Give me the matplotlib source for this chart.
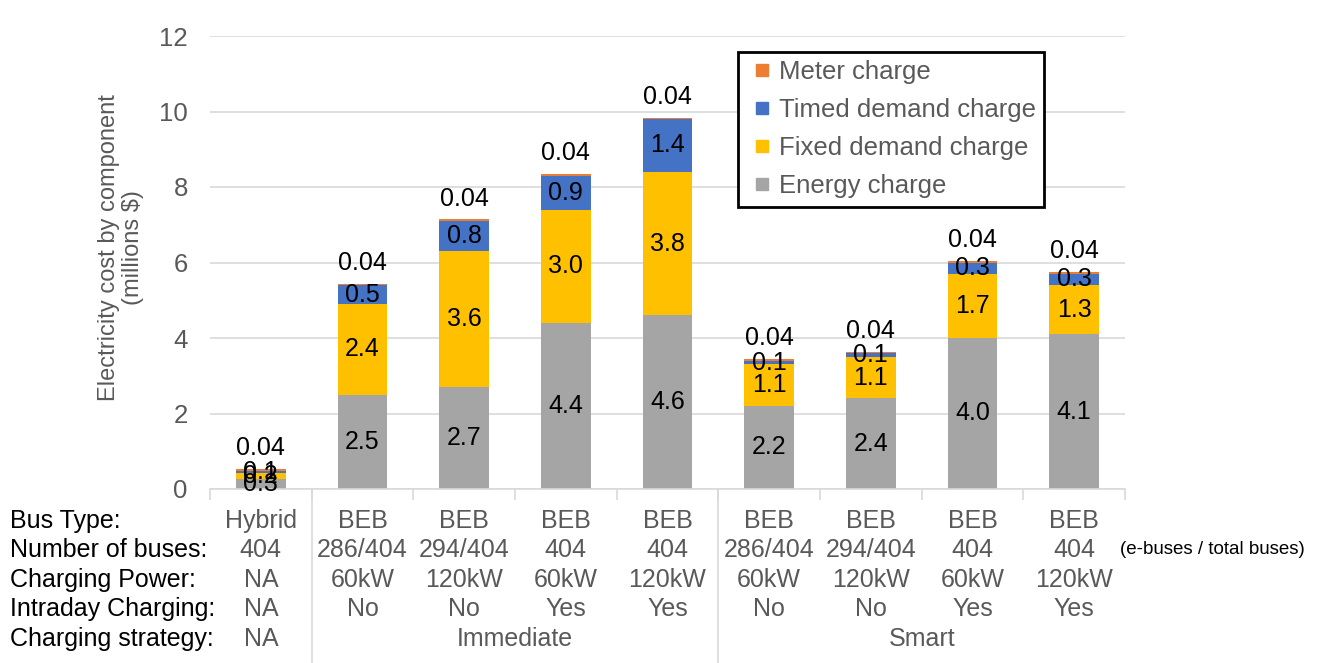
import numpy as np
import matplotlib.pyplot as plt
import matplotlib.transforms as mtransforms
from matplotlib.lines import Line2D

plt.rcParams['font.family'] = ['Liberation Sans', 'DejaVu Sans']

# data (millions $), one value per bar
energy = [0.26, 2.5, 2.7, 4.4, 4.6, 2.2, 2.4, 4.0, 4.1]
fixed_demand = [0.16, 2.4, 3.6, 3.0, 3.8, 1.1, 1.1, 1.7, 1.3]
timed_demand = [0.07, 0.5, 0.8, 0.9, 1.4, 0.1, 0.1, 0.3, 0.3]
meter = [0.04, 0.04, 0.04, 0.04, 0.04, 0.04, 0.04, 0.04, 0.04]

row_labels = ['Bus Type:', 'Number of buses:', 'Charging Power:',
              'Intraday Charging:', 'Charging strategy:']
bus_type = ['Hybrid', 'BEB', 'BEB', 'BEB', 'BEB', 'BEB', 'BEB', 'BEB', 'BEB']
n_buses = ['404', '286/404', '294/404', '404', '404', '286/404', '294/404', '404', '404']
power = ['NA', '60kW', '120kW', '60kW', '120kW', '60kW', '120kW', '60kW', '120kW']
intraday = ['NA', 'No', 'No', 'Yes', 'Yes', 'No', 'No', 'Yes', 'Yes']
strategy_groups = [('NA', 0, 0), ('Immediate', 1, 4), ('Smart', 5, 8)]

c_energy = '#A5A5A5'
c_fixed = '#FFC000'
c_timed = '#4472C4'
c_meter = '#ED7D31'
grey_txt = '#595959'

fig = plt.figure(figsize=(13.24, 6.63), dpi=100)
ax = fig.add_axes([210/1324, 1 - 489/663, 915/1324, 453/663])

x = np.arange(len(energy))
w = 0.49
e = np.array(energy)
f = np.array(fixed_demand)
t = np.array(timed_demand)
m = np.array(meter)

b1 = ax.bar(x, e, w, color=c_energy, label='Energy charge', zorder=2)
b2 = ax.bar(x, f, w, bottom=e, color=c_fixed, label='Fixed demand charge', zorder=2)
b3 = ax.bar(x, t, w, bottom=e + f, color=c_timed, label='Timed demand charge', zorder=2)
b4 = ax.bar(x, m, w, bottom=e + f + t, color=c_meter, label='Meter charge', zorder=2)

# segment labels
for bars, vals in [(b1, e), (b2, f), (b3, t)]:
    ax.bar_label(bars, labels=[f'{v:.1f}' for v in vals], label_type='center',
                 fontsize=18, color='black', zorder=5)
tops = e + f + t + m
for xi, top, v in zip(x, tops, m):
    ax.annotate(f'{v:.2f}', (xi, top), xytext=(0, 15), textcoords='offset points',
                ha='center', va='center', fontsize=18, color='black')

ax.set_xlim(-0.5, 8.5)
ax.set_ylim(0, 12)
ax.set_yticks(np.arange(0, 13, 2))
ax.tick_params(axis='y', length=0, labelsize=18.5, labelcolor=grey_txt, pad=16)
ax.set_xticks(np.arange(-0.5, 9, 1))
ax.set_xticklabels([])
ax.tick_params(axis='x', length=8, color='#D9D9D9', width=1.2)
ax.grid(axis='y', color='#D9D9D9', linewidth=1.2, zorder=0)
for s in ['top', 'right', 'left']:
    ax.spines[s].set_visible(False)
ax.spines['bottom'].set_color('#D9D9D9')
ax.spines['bottom'].set_linewidth(1.2)

ax.set_ylabel('Electricity cost by component\n(millions $)', fontsize=17,
              color=grey_txt, linespacing=1.1)
ax.yaxis.set_label_coords(-0.072, 0.532)

# separators below the axis
for xs in [0.5, 4.5]:
    ax.add_line(Line2D([xs, xs], [0, -(663 - 489) / 453 * 12], color='#D9D9D9',
                       linewidth=1.2, clip_on=False))

# table under the chart
trans = mtransforms.blended_transform_factory(ax.transData, fig.transFigure)
row_y = [1 - 521/663, 1 - 550/663, 1 - 580/663, 1 - 609/663, 1 - 639/663]
for lab, yy in zip(row_labels, row_y):
    fig.text(10/1324, yy, lab, fontsize=18, color='black', ha='left', va='center')
for row, yy in zip([bus_type, n_buses, power, intraday], row_y[:4]):
    for xi, txt in zip(x, row):
        ax.text(xi, yy, txt, transform=trans, fontsize=18, color=grey_txt,
                ha='center', va='center')
for name, i0, i1 in strategy_groups:
    ax.text((i0 + i1) / 2, row_y[4], name, transform=trans, fontsize=18,
            color=grey_txt, ha='center', va='center')
fig.text(1120/1324, row_y[1], '(e-buses / total buses)', fontsize=13.5,
         color='black', ha='left', va='center')

# legend with small square markers
order = [(c_meter, 'Meter charge'), (c_timed, 'Timed demand charge'),
         (c_fixed, 'Fixed demand charge'), (c_energy, 'Energy charge')]
handles = [Line2D([], [], linestyle='none', marker='s', markersize=8.6,
                  markerfacecolor=c, markeredgecolor=c) for c, _ in order]
leg = fig.legend(handles, [lab for _, lab in order], loc='upper left',
                 bbox_to_anchor=(738/1324, 1 - 52/663), fontsize=18.5,
                 frameon=True, fancybox=False, edgecolor='black', framealpha=1,
                 handlelength=1.2, handletextpad=0.05,
                 labelspacing=0.54, borderpad=0.33, borderaxespad=0)
leg.get_frame().set_linewidth(2)
for txt in leg.get_texts():
    txt.set_color(grey_txt)

fig.savefig('out.png', dpi=100)
